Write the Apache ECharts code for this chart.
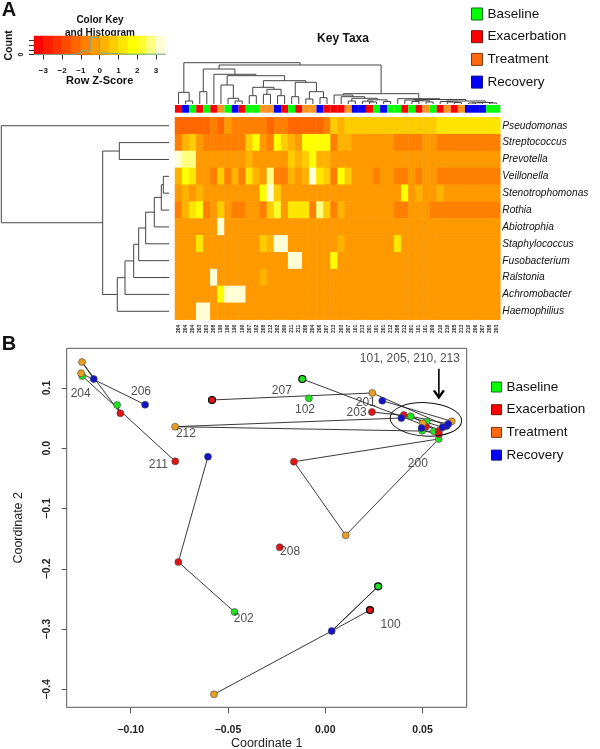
<!DOCTYPE html>
<html>
<head>
<meta charset="utf-8">
<title>Key Taxa</title>
<script src="https://cdn.jsdelivr.net/npm/echarts@6/dist/echarts.min.js"></script>
<style>
html, body { margin: 0; padding: 0; background: #fff; }
#chart { width: 600px; height: 749px; }
</style>
</head>
<body>
<div id="chart"></div>
<script>
// z-score levels of the colour key (bin centres)
var A = -1.25, a = -0.75, B = -0.25, C = 0.25, D = 0.75, E = 1.25, F = 1.75, G = 2.25, H = 2.75, I = 3.25;

var taxa = ['Pseudomonas', 'Streptococcus', 'Prevotella', 'Veillonella', 'Stenotrophomonas', 'Rothia',
	'Abiotrophia', 'Staphylococcus', 'Fusobacterium', 'Ralstonia', 'Achromobacter', 'Haemophilius'];

var sampleLabels = ['204','204','204','203','203','208','190','190','190','190','207','102','208','212','202','200','211','211','208','204','206','207','213','203','207','101','213','201','101','201','212','208','212','201','101','101','209','210','210','205','213','210','206','207','208','203'];

var sampleStages = ['r','b','g','r','g','r','o','g','b','r','g','g','o','o','b','r','g','r','o','o','b','r','r','r','o','b','b','r','g','b','g','g','r','g','r','o','g','r','o','r','o','b','b','b','g','g'];

var pseudomonas = [A,A,A,A,A,a,A,B,a,a,a,a,a,A,a,a,A,A,A,A,A,a,D,C,D,D,D,D,D,D,D,D,D,D,D,D,D,E,E,E,E,E,E,E,E,E];
var streptococcus = [a,C,D,B,a,a,a,a,a,a,D,F,B,a,F,D,C,B,F,F,F,F,a,C,C,B,B,B,B,B,B,a,a,a,a,B,B,a,a,a,a,a,a,a,a,a];
var prevotella = [I,H,H,B,B,B,B,B,B,B,C,B,B,B,B,B,D,C,D,F,C,C,B,B,B,B,B,B,B,B,B,B,B,B,B,B,B,B,B,B,B,B,B,B,B,B];
var veillonella = [C,F,E,B,B,a,D,a,C,a,E,C,B,H,a,a,C,B,C,I,E,D,a,F,D,B,B,B,a,B,B,a,a,B,a,B,B,a,a,a,a,a,a,a,a,a];
var stenotrophomonas = [B,C,B,C,B,B,B,B,B,B,B,B,F,I,D,B,B,B,B,B,B,B,B,B,B,B,B,B,B,B,B,B,F,B,C,B,B,C,B,B,B,B,B,B,B,B];
var rothia = [a,C,E,F,a,B,D,B,a,a,B,B,a,D,G,B,E,E,E,a,H,D,a,C,B,B,B,B,B,B,B,a,a,B,B,B,a,a,a,a,a,a,a,a,a,a];
var abiotrophia = [B,B,B,B,B,B,I,B,B,B,B,B,B,B,B,B,B,B,B,B,B,B,B,B,B,B,B,B,B,B,B,B,B,B,B,B,B,B,B,B,B,B,B,B,B,B];
var staphylococcus = [B,B,B,E,B,B,B,B,B,B,B,B,D,C,I,I,B,B,B,B,B,B,B,C,B,B,B,B,B,B,B,E,B,B,B,B,B,B,B,B,B,B,B,B,B,B];
var fusobacterium = [B,B,B,B,B,B,B,B,B,B,B,B,B,B,B,B,I,I,B,B,B,B,F,B,B,B,B,B,B,B,B,B,B,B,B,B,B,B,B,B,B,B,B,B,B,B];
var ralstonia = [B,B,B,B,B,I,B,B,B,B,B,B,C,B,B,B,B,B,B,B,B,B,B,B,B,B,B,B,B,B,B,B,B,B,B,B,B,B,B,B,B,B,B,B,B,B];
var achromobacter = [B,B,B,B,B,B,F,I,I,I,B,B,B,B,B,B,B,B,B,B,B,B,B,B,B,B,B,B,B,B,B,B,B,B,B,B,B,B,B,B,B,B,B,B,B,B];
var haemophilius = [B,B,B,I,I,B,B,B,B,B,B,B,B,B,B,B,B,B,B,B,B,B,B,B,B,B,B,B,B,B,B,B,B,B,B,B,B,B,B,B,B,B,B,B,B,B];
var heatRows = [pseudomonas, streptococcus, prevotella, veillonella, stenotrophomonas, rothia, abiotrophia, staphylococcus, fusobacterium, ralstonia, achromobacter, haemophilius];

var keyColors = ['#FF0000','#FF1A00','#FF3300','#FF4D00','#FF6600','#FF8000','#FF9900','#FFB300','#FFCC00','#FFE600','#FFFF00','#FFFF2A','#FFFF80','#FFFFD5'];
var keyTicks = [-3, -2, -1, 0, 1, 2, 3];
var histCounts = [0, 0, 0, 0, 0.3, 0.8, 3.7, 0.3, 0.2, 0.1, 0.1, 0.1, 0.1, 0.1];

// merges as in hclust: a number >= 0 is a leaf, -k is the k-th merge; last value is the height
var columnMerges = [
	[1,2,3],[0,-1,11.7],[3,4,12.3],[8,9,3],[7,-4,5.7],[6,-5,19],[10,11,8.3],[12,13,9.7],[14,15,8.3],[-8,-9,14.7],
	[-7,-10,16.7],[16,17,7.3],[18,19,5],[20,21,6.3],[-13,-14,12.3],[-12,-15,21.7],[-11,-16,23.3],[-6,-17,28.3],[5,-18,29.7],[-3,-19,35],
	[24,25,3],[27,28,2],[26,-22,2.8],[29,30,2.5],[-23,-24,4.2],[-21,-25,5.7],[23,-26,7.3],[22,-27,9],
	[33,34,2.5],[35,36,2],[-29,-30,3.2],[32,-31,4],[39,40,1.5],[38,-33,2],[37,-34,2.5],[41,42,1],[43,-36,1.2],[44,45,1],[-37,-38,1.5],[-35,-39,3],[-32,-40,4.5],[31,-41,5.3],
	[-28,-42,10.3],[-20,-43,39],[-2,-44,41.3]
];
var rowMerges = [
	[3,4,5.7],[-1,5,7.7],[-2,6,14.7],[-3,7,23.3],[-4,8,30.3],[-5,9,35.3],[-6,10,44],[-7,11,51.7],[1,2,49.7],[-9,-8,66.3],[0,-10,167.7]
];

// panel B, one list per stage
var baseline = [[-0.1070,0.0718],[-0.1249,0.1199],[-0.0118,0.1149],[-0.0084,0.0829],[-0.0466,-0.2715],[0.0272,-0.2289],[0.0439,0.0531],[0.0521,0.0441],[0.0498,0.0292],[0.0559,0.0282],[0.0583,0.0154]];
var exacerbation = [[-0.1053,0.0580],[-0.0771,-0.0216],[-0.0582,0.0801],[0.0240,0.0602],[-0.0161,-0.0222],[-0.0755,-0.1886],[-0.0234,-0.1642],[0.0230,-0.2682],[0.0404,0.0552],[0.0517,0.0358],[0.0584,0.0292],[0.0584,0.0237]];
var treatment = [[-0.1250,0.1431],[-0.1255,0.1244],[-0.0772,0.0358],[0.0242,0.0917],[0.0105,-0.1443],[-0.0572,-0.4080],[0.0501,0.0415],[0.0650,0.0448]];
var recovery = [[-0.1190,0.1149],[-0.0926,0.0723],[-0.0603,-0.0139],[0.0293,0.0789],[0.0033,-0.3030],[0.0391,0.0502],[0.0495,0.0337],[0.0603,0.0348],[0.0624,0.0370],[0.0632,0.0403]];
var boldPoints = ['b2', 'b5', 'e2', 'e7'];

var tracks = [
	['b0','e0','t0','r0'], ['b1','e1'], ['t1','r1'], ['b9','t2','r5'], ['e2','t3','r8'], ['b2','e10'],
	['r3','t7'], ['e3','b6','r9'], ['b10','e4','t4','b10'], ['r2','e5','b4'], ['e7','r4','b5','r4','t5'],
	['e8','r7'], ['b7','e9','t6','r6'], ['b8','e11','r7'], ['b6','e10']
];

var subjectLabels = [
	[-0.1257,0.0900,'204'],[-0.0947,0.0934,'206'],[-0.0716,0.0249,'212'],[-0.0858,-0.0277,'211'],
	[-0.0223,0.0950,'207'],[-0.0104,0.0647,'102'],[0.0208,0.0756,'201'],[0.0161,0.0597,'203'],
	[0.0476,-0.0260,'200'],[-0.0181,-0.1708,'208'],[-0.0419,-0.2831,'202'],[0.0336,-0.2925,'100'],
	[0.0435,0.1493,'101, 205, 210, 213']
];
var clusterEllipse = [0.0517, 0.0479, 0.0184, 0.0277];
var arrowLine = [0.0584, 0.1317, 0.0844];

var xTicks = [-0.10, -0.05, 0.00, 0.05];
var yTicks = [-0.4, -0.3, -0.2, -0.1, 0.0, 0.1];

var stageNames = ['Baseline', 'Exacerbation', 'Treatment', 'Recovery'];
var stagePoints = [baseline, exacerbation, treatment, recovery];
var stageKeys = ['b', 'e', 't', 'r'];
var stageMarkColors = ['#22E022', '#E01414', '#E8A024', '#1212C8'];
var legendColors = ['#00FF00', '#FF0000', '#FF6A10', '#0000FF'];
var legendBorders = ['#0B6B1E', '#7A1010', '#7A3A10', '#10107A'];
var stripColors = { r: '#FF0000', b: '#0000FF', g: '#00FF00', o: '#FF9422' };

var fontName = '"Liberation Sans", Arial, sans-serif';
var treeColor = '#444';

function minusText(text){
	return String(text).replace('-', '\u2212');
}

// turn merges into [pos1, h1, pos2, h2, h] legs
function dendroLegs(merges){
	var pos = [], hgt = [], legs = [];
	function read(ref){
		return ref >= 0 ? [ref, 0] : [pos[-ref - 1], hgt[-ref - 1]];
	}
	merges.forEach(function(m, i){
		var p = read(m[0]), q = read(m[1]);
		legs.push([p[0], p[1], q[0], q[1], m[2]]);
		pos[i] = (p[0] + q[0]) / 2;
		hgt[i] = m[2];
	});
	return legs;
}

function dendroSeries(merges, axisIndex, vertical){
	return {
		type: 'custom',
		xAxisIndex: axisIndex,
		yAxisIndex: axisIndex,
		silent: true,
		data: dendroLegs(merges),
		renderItem: function(params, api){
			var p1 = api.value(0), h1 = api.value(1), p2 = api.value(2), h2 = api.value(3), h = api.value(4);
			var list = [[p1, h1], [p1, h], [p2, h], [p2, h2]];
			var points = list.map(function(v){
				return api.coord(vertical ? v : [v[1], v[0]]);
			});
			return { type: 'polyline', shape: { points: points }, style: { stroke: treeColor, fill: 'none', lineWidth: 1 } };
		}
	};
}

function pointOf(ref){
	return stagePoints[stageKeys.indexOf(ref.charAt(0))][+ref.slice(1)];
}

var heatData = [];
heatRows.forEach(function(row, r){
	row.forEach(function(v, c){
		heatData.push([c, r, v]);
	});
});

var keyData = keyColors.map(function(c, i){
	return [i, 0, -3.25 + i * 0.5];
});

var histLine = [];
histCounts.forEach(function(n, i){
	histLine.push([-3.5 + i * 0.5, n], [-3 + i * 0.5, n]);
});

var series = [];
series.push({ type: 'heatmap', xAxisIndex: 4, yAxisIndex: 4, data: heatData, silent: true, itemStyle: { borderWidth: 0 } });
series.push({ type: 'heatmap', xAxisIndex: 0, yAxisIndex: 0, data: keyData, silent: true, itemStyle: { borderWidth: 0 } });
series.push({ type: 'line', xAxisIndex: 1, yAxisIndex: 1, data: histLine, showSymbol: false, silent: true, z: 5, lineStyle: { color: '#6FAE98', width: 1 } });
series.push(dendroSeries(columnMerges, 2, true));
series.push(dendroSeries(rowMerges, 5, false));
series.push({
	type: 'bar', xAxisIndex: 3, yAxisIndex: 3, barWidth: '100%', silent: true,
	data: sampleStages.map(function(s){
		return { value: 1, itemStyle: { color: stripColors[s] } };
	})
});

tracks.forEach(function(track){
	series.push({
		type: 'line', xAxisIndex: 6, yAxisIndex: 6, silent: true, showSymbol: false, z: 2,
		data: track.map(pointOf),
		lineStyle: { color: '#222', width: 0.9 }
	});
});

stageNames.forEach(function(name, s){
	series.push({
		type: 'scatter', name: name, xAxisIndex: 6, yAxisIndex: 6, silent: true, z: 3,
		symbolSize: 7,
		itemStyle: { color: stageMarkColors[s], borderColor: '#444', borderWidth: 0.6, opacity: 1 },
		data: stagePoints[s].map(function(p, i){
			var bold = boldPoints.indexOf(stageKeys[s] + i) >= 0;
			return { value: p, itemStyle: bold ? { borderColor: '#000', borderWidth: 1.2, opacity: 1 } : undefined };
		})
	});
});

series.push({
	type: 'scatter', xAxisIndex: 6, yAxisIndex: 6, silent: true, symbolSize: 0, z: 4,
	data: subjectLabels.map(function(l){
		return { value: [l[0], l[1]], name: l[2] };
	}),
	label: { show: true, position: 'inside', formatter: '{b}', color: '#222', fontFamily: fontName, fontSize: 12 }
});

series.push({
	type: 'custom', xAxisIndex: 6, yAxisIndex: 6, silent: true, z: 4,
	data: [clusterEllipse],
	renderItem: function(params, api){
		var c = api.coord([api.value(0), api.value(1)]);
		var rx = api.size([api.value(2), 0])[0], ry = api.size([0, api.value(3)])[1];
		return {
			type: 'ellipse', x: c[0], y: c[1], rotation: -0.05,
			shape: { cx: 0, cy: 0, rx: rx, ry: ry },
			style: { stroke: '#111', fill: 'none', lineWidth: 1 }
		};
	}
});

series.push({
	type: 'custom', xAxisIndex: 6, yAxisIndex: 6, silent: true, z: 4,
	data: [arrowLine],
	renderItem: function(params, api){
		var from = api.coord([api.value(0), api.value(1)]), to = api.coord([api.value(0), api.value(2)]);
		return {
			type: 'group',
			children: [
				{ type: 'line', shape: { x1: from[0], y1: from[1], x2: to[0], y2: to[1] }, style: { stroke: '#000', lineWidth: 1.6 } },
				{ type: 'polyline', shape: { points: [[to[0] - 5, to[1] - 7], [to[0], to[1]], [to[0] + 5, to[1] - 7]] }, style: { stroke: '#000', fill: 'none', lineWidth: 2.4 } }
			]
		};
	}
});

function legendData(){
	return stageNames.map(function(name, i){
		return { name: name, icon: 'rect', itemStyle: { color: legendColors[i], borderColor: legendBorders[i], borderWidth: 1, opacity: 1 } };
	});
}

function hiddenAxis(type, gridIndex, extra){
	var axis = { type: type, gridIndex: gridIndex, show: false };
	for(var k in extra){
		axis[k] = extra[k];
	}
	return axis;
}

function smallText(text, x, y, size, weight, align, rotation){
	return {
		type: 'text', x: x, y: y, rotation: rotation || 0, silent: true,
		style: { text: text, fill: '#111', font: weight + ' ' + size + 'px ' + fontName, textAlign: align || 'center', textVerticalAlign: 'middle' }
	};
}

var option = {
	animation: false,
	backgroundColor: '#fff',
	textStyle: { fontFamily: fontName },
	visualMap: {
		type: 'piecewise', show: false, seriesIndex: [0, 1], dimension: 2,
		pieces: keyColors.map(function(c, i){
			return { min: -3.5 + i * 0.5, max: -3 + i * 0.5, color: c };
		})
	},
	legend: [
		{ left: 471, top: 7, padding: 0, orient: 'vertical', itemWidth: 11, itemHeight: 12, itemGap: 8.7, selectedMode: false, data: legendData(), textStyle: { fontSize: 13.5, color: '#111', fontFamily: fontName } },
		{ left: 491, top: 380, padding: 0, orient: 'vertical', itemWidth: 10, itemHeight: 10, itemGap: 8.7, selectedMode: false, data: legendData(), textStyle: { fontSize: 13.5, color: '#111', fontFamily: fontName } }
	],
	grid: [
		{ left: 34, top: 36, width: 131.3, height: 18.6, outerBoundsMode: 'none' },
		{ left: 175, top: 59, width: 325.3, height: 45, outerBoundsMode: 'none' },
		{ left: 175, top: 105, width: 325.3, height: 7.7, outerBoundsMode: 'none' },
		{ left: 175, top: 117.3, width: 325.3, height: 202.4, outerBoundsMode: 'none' },
		{ left: 1, top: 117.3, width: 168, height: 202.4, outerBoundsMode: 'none' },
		{ left: 66.7, top: 348.3, width: 400, height: 359, show: true, borderColor: '#555', borderWidth: 1, outerBoundsMode: 'none' }
	],
	xAxis: [
		hiddenAxis('category', 0, { data: keyColors, boundaryGap: true, position: 'top' }),
		{
			type: 'value', gridIndex: 0, position: 'bottom', min: -3.5, max: 3.5, splitLine: { show: false },
			axisLine: { show: true, onZero: false, lineStyle: { color: '#333' } },
			axisTick: { length: 5, customValues: keyTicks, lineStyle: { color: '#333' } },
			axisLabel: { customValues: keyTicks, fontSize: 8, fontWeight: 'bold', color: '#111', margin: 12, formatter: minusText },
			name: 'Row Z-Score', nameLocation: 'middle', nameGap: 20.5,
			nameTextStyle: { fontSize: 11, fontWeight: 'bold', color: '#111' }
		},
		hiddenAxis('value', 1, { min: -0.5, max: 45.5 }),
		hiddenAxis('category', 2, { data: sampleLabels }),
		{
			type: 'category', gridIndex: 3, data: sampleLabels,
			axisLine: { show: false }, axisTick: { show: false }, splitLine: { show: false },
			axisLabel: { interval: 0, rotate: 90, fontSize: 5, fontWeight: 'bold', color: '#222', margin: 5 }
		},
		hiddenAxis('value', 4, { min: 0, max: 168, inverse: true }),
		{
			type: 'value', gridIndex: 5, position: 'bottom', min: -0.1329, max: 0.0727, splitLine: { show: false },
			axisLine: { show: false, onZero: false },
			axisTick: { show: true, length: 6, customValues: xTicks, lineStyle: { color: '#555' } },
			axisLabel: { customValues: xTicks, fontSize: 10.5, fontWeight: 'bold', color: '#222', margin: 17, formatter: function(v){ return minusText(v.toFixed(2)); } },
			name: 'Coordinate 1', nameLocation: 'middle', nameGap: 30,
			nameTextStyle: { fontSize: 12.5, color: '#222' }
		}
	],
	yAxis: [
		hiddenAxis('category', 0, { data: ['key'], position: 'right' }),
		{
			type: 'value', gridIndex: 0, position: 'left', min: 0, max: 4, splitLine: { show: false },
			axisLine: { show: false, onZero: false },
			axisTick: { show: true, length: 5, customValues: [0, 1, 2, 3], lineStyle: { color: '#333' } },
			axisLabel: { customValues: [0], rotate: 90, fontSize: 7, fontWeight: 'bold', color: '#111', margin: 9 },
			name: 'Count', nameLocation: 'middle', nameGap: 19, nameRotate: 90,
			nameTextStyle: { fontSize: 10.5, fontWeight: 'bold', color: '#111' }
		},
		hiddenAxis('value', 1, { min: 0, max: 45 }),
		hiddenAxis('value', 2, { min: 0, max: 1 }),
		{
			type: 'category', gridIndex: 3, data: taxa, inverse: true, position: 'right',
			axisLine: { show: false }, axisTick: { show: false }, splitLine: { show: false },
			axisLabel: { interval: 0, fontSize: 10.2, fontStyle: 'italic', color: '#111', margin: 2 }
		},
		hiddenAxis('value', 4, { min: -0.5, max: 11.5, inverse: true }),
		{
			type: 'value', gridIndex: 5, position: 'left', min: -0.4295, max: 0.1658, splitLine: { show: false },
			axisLine: { show: false, onZero: false },
			axisTick: { show: true, length: 5, customValues: yTicks, lineStyle: { color: '#555' } },
			axisLabel: { customValues: yTicks, rotate: 90, fontSize: 10.5, fontWeight: 'bold', color: '#222', margin: 14, formatter: function(v){ return minusText(v.toFixed(1)); } },
			name: 'Coordinate 2', nameLocation: 'middle', nameGap: 42, nameRotate: 90,
			nameTextStyle: { fontSize: 12.5, color: '#222' }
		}
	],
	graphic: [
		smallText('A', 9, 10, 20, 'bold'),
		smallText('B', 9, 344, 20, 'bold'),
		smallText('Color Key', 100, 20, 10, 'bold'),
		smallText('and Histogram', 100, 33, 10, 'bold'),
		smallText('Key Taxa', 343, 39, 12, 'bold')
	],
	series: series
};

var chart = echarts.init(document.getElementById('chart'), null, { renderer: 'canvas' });
chart.setOption(option);
</script>
</body>
</html>
